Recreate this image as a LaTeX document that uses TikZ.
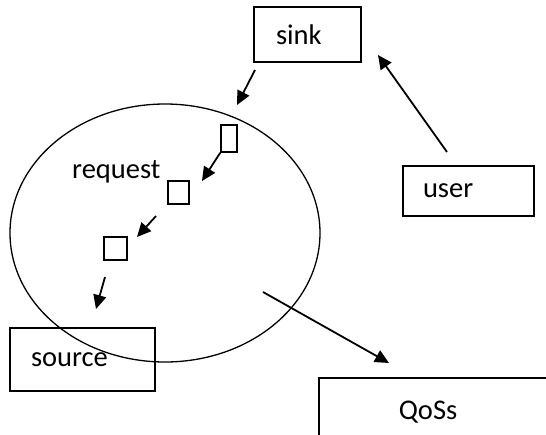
\documentclass[tikz,border=0pt]{standalone}
\usepackage{fontspec}
\setmainfont{Carlito}
\usetikzlibrary{arrows.meta,shapes.geometric}
\begin{document}
\begin{tikzpicture}[x=1pt,y=-1pt,
  lbl/.style={font=\fontsize{28.5}{33}\selectfont},
  box/.style={draw, line width=1.6pt, rectangle, align=left, inner ysep=0pt, lbl},
  cell/.style={draw, line width=1.6pt, rectangle, inner sep=0pt},
  flow/.style={line width=1.8pt, -{Triangle[length=14pt,width=13pt]}}
]
\useasboundingbox (0,0) rectangle (546,434);
\clip (0,0) rectangle (546,434);
% boxes
\node[box, minimum width=107pt, minimum height=55pt, text width=63pt, inner xsep=22pt] (sink) at (307.5,34.5) {sink};
\node[box, minimum width=131pt, minimum height=50pt, text width=91pt, inner xsep=20pt] (user) at (468.5,191) {user};
\node[box, minimum width=145pt, minimum height=63pt, text width=103pt, inner xsep=21pt] (source) at (82.5,359.5) {source};
\node[box, minimum width=282pt, minimum height=68pt, text width=122pt, inner xsep=80pt, anchor=north west] (qos) at (318,377) {QoSs};
% ellipse
\node[draw, line width=1.3pt, ellipse, minimum width=310pt, minimum height=258pt, inner sep=0pt] (net) at (165,233) {};
% request cells
\node[cell, minimum width=16pt, minimum height=27pt] (r1) at (229,138.5) {};
\node[cell, minimum width=21pt, minimum height=23pt] (r2) at (178.5,192.5) {};
\node[cell, minimum width=23pt, minimum height=23pt] (r3) at (115.5,248.5) {};
\node[lbl, anchor=base west, inner sep=0pt] (req) at (72,178) {request};
% connector end points
\coordinate (a1s) at (255,70);   \coordinate (a1e) at (237,105);
\coordinate (a2e) at (202,181);
\coordinate (a3s) at (156,216);  \coordinate (a3e) at (137,237);
\coordinate (a4s) at (105,277);  \coordinate (a4e) at (96,309);
\coordinate (a5s) at (447,152);  \coordinate (a5e) at (378,55);
\coordinate (a6s) at (263,292);  \coordinate (a6e) at (389,363);
\draw[flow] (a1s) -- (a1e);
\draw[flow] (r1.south west) -- (a2e);
\draw[flow] (a3s) -- (a3e);
\draw[flow] (a4s) -- (a4e);
\draw[flow] (a5s) -- (a5e);
\draw[flow] (a6s) -- (a6e);
\end{tikzpicture}
\end{document}
